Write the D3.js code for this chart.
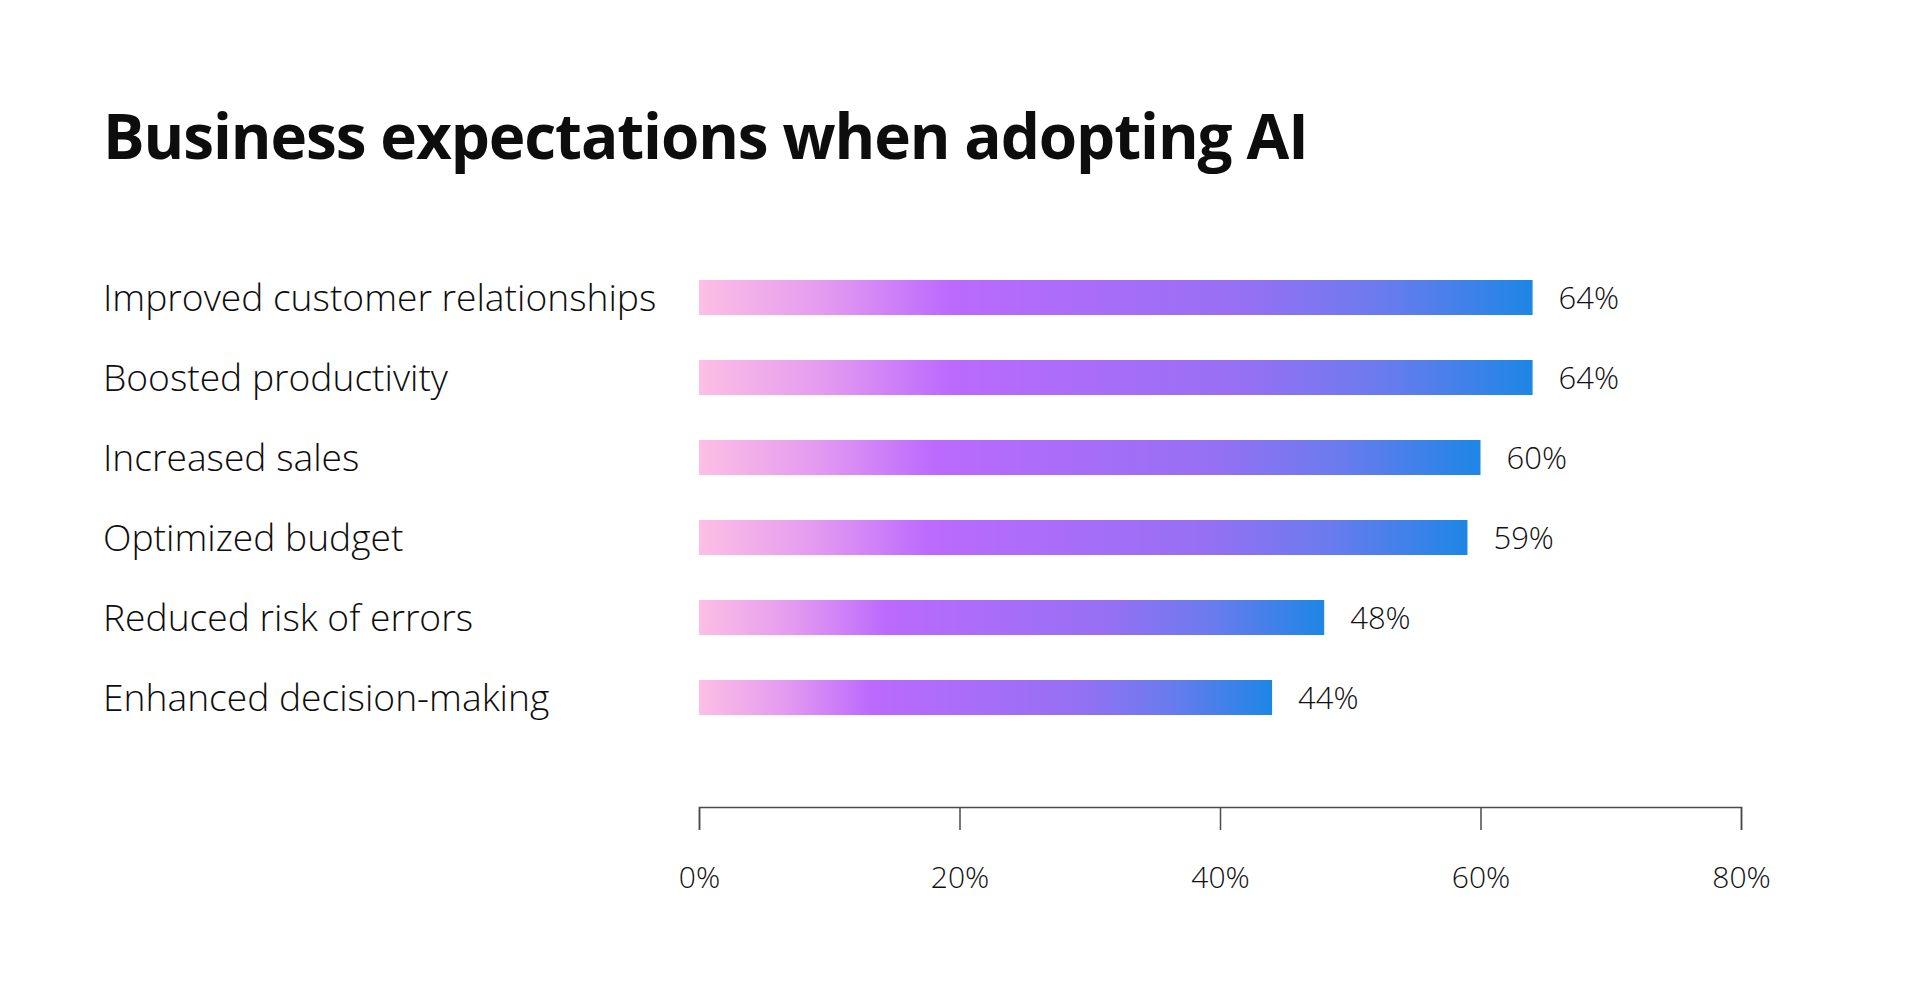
<!DOCTYPE html>
<html>
<head>
<meta charset="utf-8">
<script src="https://cdn.jsdelivr.net/npm/d3@7"></script>
<style>
  html, body { margin: 0; padding: 0; background: #ffffff; }
  svg { display: block; }
</style>
</head>
<body>
<svg id="chart" width="1920" height="1000"></svg>
<script>
const title = "Business expectations when adopting AI";
const categories = [
  "Improved customer relationships",
  "Boosted productivity",
  "Increased sales",
  "Optimized budget",
  "Reduced risk of errors",
  "Enhanced decision-making"
];
const values = [64, 64, 60, 59, 48, 44];
const tickValues = [0, 20, 40, 60, 80];
const tickLabels = ["0%", "20%", "40%", "60%", "80%"];

const svg = d3.select("#chart");
const labelFont = "'Open Sans', 'Noto Sans', sans-serif";

const x = d3.scaleLinear().domain([0, 80]).range([699, 1741]);
const y = d3.scaleBand().domain(categories).range([257.5, 737.5]).paddingInner(0.5625).paddingOuter(0.28125);

// gradient (per bar, objectBoundingBox)
const defs = svg.append("defs");
const grad = defs.append("linearGradient").attr("id", "barGrad")
  .attr("x1", "0%").attr("x2", "100%").attr("y1", "0%").attr("y2", "0%");
[[0, "#fcbfe4"], [0.15, "#e39bf0"], [0.3, "#bb6afe"], [0.66, "#9570f3"], [0.82, "#6a7bee"], [1, "#1e86e6"]]
  .forEach(([o, c]) => grad.append("stop").attr("offset", o).attr("stop-color", c));

// title
svg.append("text")
  .attr("x", 103).attr("y", 159)
  .attr("font-family", "'Open Sans', 'Noto Sans', sans-serif")
  .attr("font-weight", 700)
  .attr("font-size", 62)
  .attr("letter-spacing", -1.1)
  .attr("fill", "#0d0d0d")
  .text(title);

// category labels
svg.append("g").selectAll("text").data(categories).join("text")
  .attr("x", 103)
  .attr("y", d => y(d) + y.bandwidth() / 2)
  .attr("dy", "0.37em")
  .attr("font-family", labelFont)
  .attr("font-weight", 300)
  .attr("font-size", 37.2)
  .attr("fill", "#0d0d0d")
  .text(d => d);

// bars
svg.append("g").selectAll("rect").data(categories).join("rect")
  .attr("x", x(0))
  .attr("y", d => y(d))
  .attr("width", (d, i) => x(values[i]) - x(0))
  .attr("height", y.bandwidth())
  .attr("fill", "url(#barGrad)");

// value labels
svg.append("g").selectAll("text").data(categories).join("text")
  .attr("x", (d, i) => x(values[i]) + 26)
  .attr("y", d => y(d) + y.bandwidth() / 2)
  .attr("dy", "0.36em")
  .attr("font-family", labelFont)
  .attr("font-weight", 300)
  .attr("font-size", 31)
  .attr("fill", "#111")
  .text((d, i) => values[i] + "%");

// axis
const axis = d3.axisBottom(x)
  .tickValues(tickValues)
  .tickFormat((d, i) => tickLabels[i])
  .tickSize(23)
  .tickPadding(37);
const ag = svg.append("g").attr("transform", "translate(0,807)").call(axis);
ag.select(".domain").attr("stroke", "#4a4a4a").attr("stroke-width", 1.5);
ag.selectAll(".tick line").attr("stroke", "#4a4a4a").attr("stroke-width", 1.5);
ag.selectAll(".tick text")
  .attr("font-family", labelFont)
  .attr("font-weight", 300)
  .attr("font-size", 30)
  .attr("fill", "#111");
</script>
</body>
</html>
